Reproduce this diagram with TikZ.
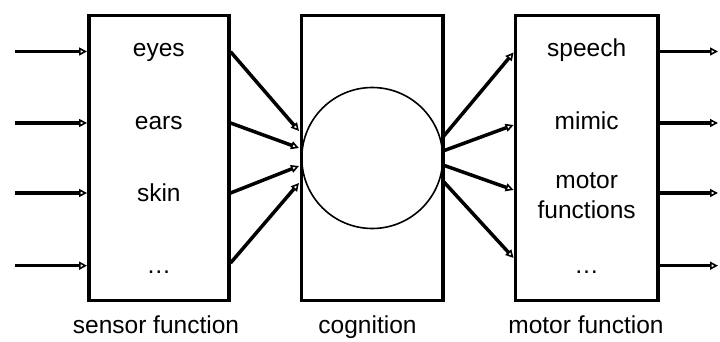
\documentclass[tikz,border=0pt]{standalone}
\usepackage{fontspec}
\setmainfont{Liberation Sans}
\usetikzlibrary{arrows.meta}
\begin{document}
\begin{tikzpicture}[x=1pt,y=-1pt,
  box/.style={draw,line width=3.5pt,minimum width=140pt,minimum height=284.6pt,inner sep=0pt},
  lbl/.style={font=\fontsize{24.5}{30}\selectfont,align=center,inner sep=0pt,anchor=base},
  arr/.style={line width=3.5pt,-{Triangle[open,fill=white,length=8pt,width=8pt,line width=1.6pt]}}
]
\useasboundingbox (0,0) rectangle (720,342);
\node[box] (sensor) at (158.8,158) {};
\node[box,minimum width=141.3pt] (cog) at (372.3,158) {};
\node[box,minimum width=142.7pt] (motor) at (586.7,158) {};
\node[draw,circle,line width=1.6pt,minimum size=141pt,inner sep=0pt] (brain) at (372.3,158) {};

% inner labels
\node[lbl] (eyes) at (158.8,57) {eyes};
\node[lbl] (ears) at (158.8,130) {ears};
\node[lbl] (skin) at (158.8,201) {skin};
\node[lbl] (sdots) at (158.8,273) {\dots};
\node[lbl] (speech) at (586.7,57) {speech};
\node[lbl] (mimic) at (586.7,130) {mimic};
\node[lbl] (motf1) at (586.7,188.5) {motor};
\node[lbl] (motf2) at (586.7,218.5) {functions};
\node[lbl] (mdots) at (586.7,273) {\dots};

% captions
\node[lbl] (capS) at (156,333) {sensor function};
\node[lbl] (capC) at (367.5,333) {cognition};
\node[lbl] (capM) at (586,333) {motor function};

% input arrow starts
\coordinate (i1) at (15,51.5);
\coordinate (i2) at (15,123);
\coordinate (i3) at (15,193);
\coordinate (i4) at (15,265.7);
\foreach \k in {1,...,4}{\draw[arr] (i\k) -- (i\k -| sensor.west);}

% sensor to cognition
\coordinate (s1) at (230.5,51.7);
\coordinate (s2) at (230.5,123);
\coordinate (s3) at (230.5,193);
\coordinate (s4) at (230.5,263);
\coordinate (c1) at (299,131);
\coordinate (c2) at (299,148);
\coordinate (c3) at (299,166);
\coordinate (c4) at (299,183);
\foreach \k in {1,...,4}{\draw[arr] (s\k -| sensor.east) -- (c\k);}

% cognition to motor
\coordinate (d1) at (443,137);
\coordinate (d2) at (443,151);
\coordinate (d3) at (443,165);
\coordinate (d4) at (443,181);
\coordinate (m1) at (513.3,52.5);
\coordinate (m2) at (513.3,125);
\coordinate (m3) at (513.3,190);
\coordinate (m4) at (513.3,258);
\foreach \k in {1,...,4}{\draw[arr] (d\k) -- (m\k -| motor.west);}

% outputs
\coordinate (o1) at (718,51.5);
\coordinate (o2) at (718,123);
\coordinate (o3) at (718,193);
\coordinate (o4) at (718,265.7);
\foreach \k in {1,...,4}{\draw[arr] (o\k -| motor.east) -- (o\k);}
\end{tikzpicture}
\end{document}
